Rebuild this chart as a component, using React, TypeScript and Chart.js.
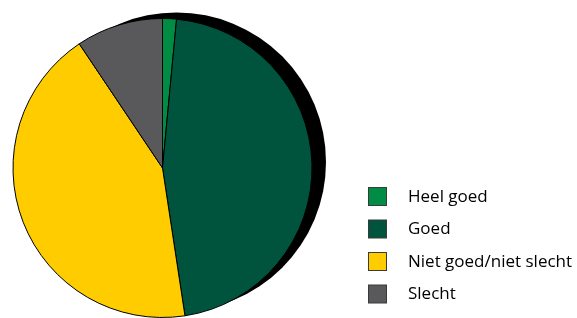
import React, { useEffect, useRef } from "react";
import { Chart, registerables } from "chart.js";

Chart.register(...registerables);

const categories = ["Heel goed", "Goed", "Niet goed/niet slecht", "Slecht"];
const values = [1.5, 46.1, 43.0, 9.4];
const colors = ["#008C45", "#00533C", "#FFCC00", "#59595B"];

const shadowPlugin = {
  id: "shadowPlugin",
  beforeDatasetsDraw(chart: any) {
    const meta = chart.getDatasetMeta(0);
    const arc = meta.data[0];
    if (!arc) return;
    const { x, y, outerRadius } = arc.getProps(["x", "y", "outerRadius"], true);
    const ctx = chart.ctx;
    ctx.save();
    ctx.fillStyle = "#000000";
    ctx.beginPath();
    ctx.arc(x + 14, y - 6, outerRadius, 0, Math.PI * 2);
    ctx.fill();
    ctx.restore();
  },
};

const legendPlugin = {
  id: "customLegend",
  afterDraw(chart: any) {
    const ctx = chart.ctx;
    const labels = chart.data.labels as string[];
    const bg = chart.data.datasets[0].backgroundColor as string[];
    const x0 = 368.5;
    const y0 = 187.5;
    const step = 32.5;
    const box = 18;
    ctx.save();
    ctx.font = "17px 'Open Sans'";
    ctx.textBaseline = "middle";
    labels.forEach((lab, i) => {
      const y = y0 + i * step;
      ctx.fillStyle = bg[i];
      ctx.fillRect(x0, y, box, box);
      ctx.strokeStyle = "#3a3a3a";
      ctx.lineWidth = 1;
      ctx.strokeRect(x0, y, box, box);
      ctx.fillStyle = "#000000";
      ctx.fillText(lab, 408, y + box / 2 + 0.5);
    });
    ctx.restore();
  },
};

export default function App() {
  const ref = useRef<HTMLCanvasElement | null>(null);
  useEffect(() => {
    if (!ref.current) return;
    const chart = new Chart(ref.current, {
      type: "pie",
      data: {
        labels: categories,
        datasets: [
          {
            data: values,
            backgroundColor: colors,
            borderColor: "#000000",
            borderWidth: 1,
          },
        ],
      },
      options: {
        animation: false,
        responsive: false,
        maintainAspectRatio: false,
        layout: { padding: { left: 12.5, top: 18, right: 264.5, bottom: 0 } },
        plugins: {
          legend: { display: false },
          tooltip: { enabled: false },
        },
      },
      plugins: [shadowPlugin, legendPlugin],
    });
    return () => chart.destroy();
  }, []);
  return (
    <div style={{ position: "absolute", left: 0, top: 0, width: 577, height: 318, background: "#fff" }}>
      <canvas ref={ref} width={577} height={318} style={{ width: 577, height: 318 }} />
    </div>
  );
}
